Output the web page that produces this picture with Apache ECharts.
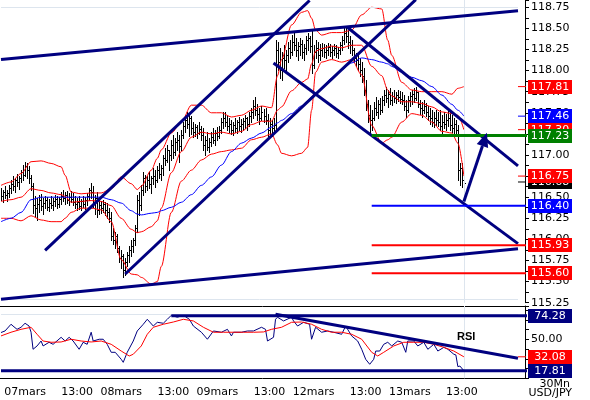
<!DOCTYPE html>
<html><head><meta charset="utf-8">
<script src="https://cdn.jsdelivr.net/npm/echarts@6/dist/echarts.min.js"></script>
<style>html,body{margin:0;padding:0;background:#fff}#c{width:590px;height:400px}</style>
</head><body><div id="c"></div>
<script>
// ---------- categories / tick labels ----------
const dayNames = ['06mars','07mars','08mars','09mars','12mars','13mars','14mars'];
const firstSlot = 36;      // 06mars starts at 18:00
const lastDaySlots = 10;   // 14mars: empty future slots
const labelTimes = ['00:00','13:00'];
const lastLabelled = '13mars 13:00';

// ---------- USD/JPY 30 min bars ----------
const highs = [116.61,116.59,116.63,116.59,116.64,116.70,116.75,116.73,116.78,116.75,
116.82,116.88,116.92,116.90,116.87,116.76,116.67,116.51,116.49,116.53,
116.54,116.49,116.51,116.50,116.48,116.51,116.49,116.53,116.51,116.50,
116.56,116.59,116.56,116.57,116.55,116.57,116.55,116.51,116.49,116.51,
116.48,116.51,116.50,116.55,116.61,116.67,116.63,116.53,116.56,116.47,
116.45,116.47,116.44,116.43,116.37,116.32,116.13,116.09,116.06,115.92,
115.87,115.83,115.78,115.85,115.92,115.99,116.02,116.17,116.53,116.56,
116.64,116.80,116.76,116.75,116.80,116.75,116.85,116.82,116.87,116.90,
116.88,117.00,117.08,117.12,117.06,117.18,117.24,117.20,117.27,117.24,
117.30,117.39,117.47,117.51,117.49,117.46,117.39,117.37,117.35,117.39,
117.34,117.32,117.23,117.27,117.20,117.27,117.32,117.30,117.33,117.34,
117.44,117.51,117.51,117.47,117.44,117.41,117.39,117.44,117.41,117.45,
117.43,117.44,117.47,117.45,117.51,117.56,117.65,117.69,117.60,117.56,
117.58,117.55,117.56,117.49,117.44,117.41,117.44,118.36,118.34,118.27,
118.22,118.30,118.24,118.34,118.36,118.42,118.45,118.39,118.34,118.39,
118.36,118.31,118.41,118.45,118.41,118.48,118.30,118.36,118.34,118.31,
118.33,118.31,118.30,118.33,118.31,118.29,118.31,118.30,118.28,118.34,
118.41,118.50,118.52,118.48,118.41,118.36,118.27,118.21,118.18,118.15,
118.10,118.03,117.89,117.65,117.59,117.53,117.63,117.69,117.65,117.67,
117.70,117.77,117.81,117.77,117.79,117.75,117.77,117.75,117.77,117.76,
117.75,117.71,117.65,117.70,117.75,117.77,117.79,117.81,117.75,117.65,
117.63,117.65,117.62,117.58,117.56,117.53,117.51,117.53,117.51,117.53,
117.47,117.51,117.49,117.53,117.51,117.47,117.44,117.41,117.35,116.90,
116.90,116.82];
const lows = [116.47,116.44,116.49,116.45,116.50,116.55,116.59,116.56,116.63,116.60,
116.68,116.70,116.75,116.73,116.67,116.59,116.31,116.28,116.23,116.32,
116.35,116.30,116.37,116.35,116.34,116.37,116.35,116.40,116.37,116.38,
116.42,116.45,116.42,116.43,116.41,116.44,116.41,116.37,116.35,116.36,
116.35,116.38,116.36,116.41,116.47,116.49,116.38,116.30,116.27,116.30,
116.31,116.32,116.29,116.25,116.21,115.99,115.95,115.90,115.85,115.73,
115.66,115.55,115.58,115.68,115.73,115.80,115.85,115.93,116.09,116.29,
116.35,116.53,116.56,116.59,116.61,116.55,116.66,116.62,116.68,116.73,
116.70,116.76,116.88,116.92,116.82,116.94,116.96,117.00,117.06,116.92,
117.06,117.20,117.27,117.32,117.23,117.25,117.21,117.23,117.20,117.25,
117.18,117.06,117.00,117.06,117.04,117.11,117.14,117.12,117.18,117.20,
117.26,117.32,117.34,117.30,117.27,117.25,117.24,117.27,117.26,117.30,
117.27,117.30,117.32,117.30,117.34,117.39,117.44,117.47,117.41,117.37,
117.41,117.39,117.37,117.21,117.25,117.23,117.27,117.30,118.01,117.91,
117.89,118.03,117.98,118.10,118.15,118.18,118.24,118.17,118.13,118.18,
118.15,118.13,118.20,118.24,118.22,117.97,118.03,118.15,118.10,118.13,
118.17,118.16,118.15,118.18,118.17,118.15,118.18,118.16,118.15,118.20,
118.24,118.31,118.34,118.27,118.21,118.18,118.10,118.05,118.01,117.94,
117.86,117.71,117.53,117.39,117.26,117.30,117.41,117.47,117.44,117.49,
117.51,117.59,117.63,117.57,117.60,117.59,117.63,117.62,117.64,117.62,
117.60,117.53,117.45,117.51,117.58,117.60,117.63,117.65,117.57,117.49,
117.45,117.50,117.46,117.41,117.37,117.34,117.33,117.35,117.34,117.30,
117.26,117.32,117.30,117.34,117.30,117.27,117.26,117.24,116.70,116.64,
116.62,116.61];
const closes = [116.51,116.56,116.53,116.55,116.61,116.66,116.63,116.70,116.68,116.73,
116.80,116.76,116.87,116.82,116.73,116.63,116.41,116.37,116.42,116.47,
116.40,116.43,116.47,116.38,116.43,116.41,116.45,116.48,116.42,116.48,
116.51,116.49,116.53,116.47,116.50,116.48,116.44,116.42,116.44,116.40,
116.45,116.42,116.47,116.51,116.59,116.56,116.43,116.49,116.35,116.41,
116.37,116.42,116.35,116.32,116.25,116.04,115.99,116.04,115.90,115.78,
115.80,115.64,115.73,115.82,115.87,115.92,115.99,116.13,116.47,116.41,
116.59,116.73,116.63,116.70,116.66,116.73,116.75,116.70,116.82,116.78,
116.85,116.96,116.94,117.06,117.00,117.12,117.04,117.15,117.18,117.11,
117.24,117.34,117.41,117.37,117.44,117.32,117.27,117.33,117.26,117.31,
117.24,117.12,117.18,117.10,117.15,117.21,117.18,117.26,117.23,117.30,
117.39,117.44,117.39,117.34,117.37,117.30,117.35,117.32,117.39,117.34,
117.37,117.40,117.44,117.37,117.46,117.51,117.58,117.53,117.49,117.44,
117.51,117.46,117.41,117.30,117.37,117.32,117.35,118.24,118.10,118.01,
118.15,118.13,118.18,118.27,118.22,118.34,118.30,118.24,118.29,118.31,
118.22,118.27,118.36,118.39,118.29,118.07,118.22,118.27,118.18,118.24,
118.27,118.22,118.24,118.28,118.22,118.24,118.27,118.21,118.24,118.30,
118.36,118.45,118.41,118.34,118.30,118.24,118.15,118.13,118.08,118.01,
117.94,117.77,117.60,117.47,117.41,117.44,117.56,117.51,117.60,117.53,
117.65,117.71,117.67,117.72,117.65,117.70,117.67,117.71,117.69,117.66,
117.65,117.58,117.53,117.65,117.70,117.72,117.67,117.75,117.60,117.56,
117.53,117.58,117.51,117.46,117.44,117.39,117.44,117.41,117.39,117.34,
117.39,117.37,117.41,117.44,117.35,117.32,117.37,117.30,116.82,116.85,
116.70,116.67];

// ---------- Bollinger bands (red) and moving average (blue), read at these bars ----------
const bandIdx = [0,5,10,15,20,25,30,32,35,40,45,50,55,60,65,68,70,75,78,80,85,90,95,100,105,110,115,120,125,130,135,138,140,145,150,153,155,157,160,165,170,175,180,185,190,193,195,200,205,210,215,220,225,228,231];
const bandUpper = [116.64,116.68,116.78,116.92,116.93,116.90,116.86,116.76,116.56,116.54,
116.55,116.55,116.60,116.74,116.66,116.59,116.63,116.82,116.96,117.06,
117.26,117.39,117.59,117.59,117.50,117.50,117.45,117.47,117.53,117.58,
117.56,117.94,118.13,118.54,118.69,118.71,118.62,118.48,118.42,118.45,
118.45,118.48,118.66,118.75,118.73,118.36,118.18,117.86,117.77,117.75,
117.75,117.75,117.72,117.79,117.81];
const bandMiddle = [116.45,116.47,116.50,116.60,116.58,116.55,116.53,116.51,116.44,116.45,
116.46,116.45,116.40,116.25,116.12,116.08,116.09,116.15,116.22,116.37,
116.79,117.04,117.21,117.27,117.25,117.27,117.25,117.28,117.36,117.40,
117.40,117.53,117.57,117.76,117.86,117.90,118.08,118.23,118.26,118.29,
118.27,118.30,118.30,118.05,117.94,117.77,117.70,117.63,117.63,117.61,
117.57,117.51,117.49,117.47,117.30];
const bandLower = [116.25,116.25,116.22,116.28,116.23,116.21,116.21,116.25,116.32,116.37,
116.37,116.35,116.21,115.76,115.59,115.58,115.55,115.47,115.50,115.68,
116.32,116.69,116.82,116.94,117.01,117.04,117.06,117.08,117.18,117.21,
117.25,117.12,117.02,116.99,117.02,117.09,117.53,117.98,118.10,118.13,
118.10,118.13,117.95,117.35,117.14,117.18,117.21,117.39,117.49,117.47,
117.39,117.28,117.26,117.14,116.75];
const maBlue = [116.21,116.25,116.32,116.47,116.50,116.50,116.50,116.50,116.50,116.50,
116.50,116.50,116.47,116.43,116.34,116.30,116.29,116.31,116.32,116.34,
116.38,116.44,116.53,116.64,116.74,116.88,117.04,117.14,117.20,117.26,
117.33,117.38,117.41,117.49,117.58,117.64,117.69,117.73,117.79,117.91,
118.01,118.09,118.15,118.13,118.10,118.08,118.05,117.98,117.92,117.88,
117.81,117.71,117.60,117.53,117.46];

// ---------- RSI panel ----------
const rsiIdx = [0,2,5,6,8,10,12,14,15,16,18,20,21,24,26,30,32,34,36,39,41,43,45,46,49,51,53,55,57,60,61,63,66,68,71,73,76,78,81,83,85,88,91,94,96,100,103,106,110,113,115,116,120,123,126,130,132,133,136,137,138,141,145,146,148,151,154,155,157,160,163,166,170,172,175,178,180,182,184,186,187,189,191,193,195,198,200,202,203,206,208,211,213,216,218,221,223,226,227,228,229,231];
const rsiVals = [57.0,58.6,65.5,63.7,60.3,62.4,66.5,63.7,57.3,39.8,43.2,48.3,43.2,47.0,44.9,52.1,48.3,52.1,48.3,39.8,47.0,44.9,57.3,48.3,50.1,50.1,44.9,36.7,36.7,29.5,26.4,36.7,48.3,58.6,65.5,70.6,63.7,67.5,66.5,70.6,74.7,72.7,74.7,70.6,63.7,57.3,50.1,58.6,57.3,60.3,53.5,57.3,57.3,58.6,58.6,62.4,60.3,48.3,52.1,70.6,72.7,68.9,72.7,68.9,63.7,67.5,65.5,50.1,62.4,57.3,58.6,57.3,55.2,63.7,53.5,48.3,39.8,29.5,24.4,29.5,38.0,38.0,44.9,47.0,43.2,48.3,47.0,36.7,48.3,48.3,43.2,47.0,39.8,44.9,38.0,41.8,39.8,34.7,34.0,22.0,22.6,17.81];
const rsiMaIdx = [0,5,10,15,18,21,25,30,35,40,45,50,55,60,64,66,70,73,76,81,86,91,96,101,106,111,116,121,126,131,135,140,145,150,155,160,165,170,175,180,185,188,191,196,201,206,211,216,221,226,231];
const rsiMaVals = [53.5,57.3,60.3,62.4,55.2,48.3,47.0,47.3,50.1,48.3,47.3,48.3,44.9,38.0,32.9,34.7,43.2,55.2,62.4,65.5,67.8,70.6,68.9,62.4,57.3,57.3,57.3,57.3,57.3,57.6,60.3,62.4,67.5,67.8,65.5,60.3,57.3,57.3,55.2,50.1,36.7,32.9,36.7,43.2,47.0,47.0,47.0,44.9,41.8,38.0,32.08];

// ---------- drawn trend lines [barIndex, price] ----------
const trendLines = [
  [[0,118.13],[258,118.71]],
  [[0,115.29],[258,115.89]],
  [[22,115.87],[154,118.83]],
  [[62,115.59],[207,118.84]],
  [[136,118.09],[258,115.95]],
  [[173,118.51],[258,116.87]]
];
const arrowLine = [[231,116.45],[242,117.23]];
const levelStart = 185, levelEnd = 263, stubStart = 258;
const levels = [
  {v:117.23, c:'#008000', w:3},
  {v:116.40, c:'#0000ff', w:2},
  {v:115.93, c:'#ff0000', w:2},
  {v:115.60, c:'#ff0000', w:2}
];
const stubs = [
  {v:117.81, c:'#ff0000'}, {v:117.46, c:'#0000ff'}, {v:117.30, c:'#ff0000'},
  {v:116.75, c:'#ff0000'}, {v:116.68, c:'#000000'}
];
const priceTags = [
  {v:117.81, c:'#ff0000'}, {v:117.46, c:'#0000ff'}, {v:117.30, c:'#ff0000'},
  {v:117.23, c:'#008000'}, {v:116.68, c:'#000000'}, {v:116.75, c:'#ff0000'},
  {v:116.40, c:'#0000ff'}, {v:115.93, c:'#ff0000'}, {v:115.60, c:'#ff0000'}
];
const rsiTrend = [[137,75.75],[258,30.55]];
const rsiLevels = [{v:74.28, from:85}, {v:17.81, from:0}];
const rsiStub = {v:32.08, c:'#ff0000'};
const rsiTags = [{v:74.28, c:'#000080'}, {v:32.08, c:'#ff0000'}, {v:17.81, c:'#000080'}];
const gridLight = {top:118.75, bottom:115.29, rsiTop:75.7, cursor:231};

// ---------- build ----------
const cats = [];
dayNames.forEach((d, k) => {
  const from = k === 0 ? firstSlot : 0;
  const to = k === dayNames.length - 1 ? lastDaySlots : 48;
  for (let s = from; s < to; s++) {
    const hh = String(Math.floor(s / 2)).padStart(2, '0');
    cats.push(d + ' ' + hh + ':' + (s % 2 ? '30' : '00'));
  }
});
const lastLabelIndex = cats.indexOf(lastLabelled);

const NAVY = '#000080';
const FONT = 'DejaVu Sans';
const pairs = (idx, vals) => idx.map((k, j) => [k, vals[j]]);
const ohlc = highs.map((h, i) => [i, h, lows[i], closes[i]]);

function barRender(params, api) {
  const i = api.value(0);
  const ph = api.coord([i, api.value(1)]);
  const pl = api.coord([i, api.value(2)]);
  const pc = api.coord([i, api.value(3)]);
  const x = Math.round(ph[0]) + 0.5;
  const yc = Math.round(pc[1]) + 0.5;
  return {type:'group', children:[
    {type:'line', shape:{x1:x, y1:Math.round(ph[1]), x2:x, y2:Math.round(pl[1]) + 1}, style:{stroke:'#000', lineWidth:1}},
    {type:'line', shape:{x1:x, y1:yc, x2:x + 1.5, y2:yc}, style:{stroke:'#000', lineWidth:1}}
  ]};
}
function tagRender(tags) {
  return function (params, api) {
    const t = tags[params.dataIndex];
    const y = Math.round(api.coord([0, t.v])[1]);
    return {type:'group', children:[
      {type:'rect', shape:{x:528, y:y - 7, width:44, height:14}, style:{fill:t.c}},
      {type:'text', style:{text:t.v.toFixed(2), x:550, y:y + 0.5, fill:'#fff', font:'11px "' + FONT + '"', align:'center', verticalAlign:'middle', textAlign:'center', textVerticalAlign:'middle'}}
    ]};
  };
}
// arrow: shaft + filled head, both placed through the axes
function arrowRender(params, api) {
  const a = api.coord(arrowLine[0]);
  const b = api.coord(arrowLine[1]);
  const dx = b[0] - a[0], dy = b[1] - a[1];
  const len = Math.sqrt(dx * dx + dy * dy);
  const ux = dx / len, uy = dy / len;
  const headL = 14, headW = 6;
  const tip = [b[0] + ux * 3, b[1] + uy * 3];
  const base = [tip[0] - ux * headL, tip[1] - uy * headL];
  return {type:'group', children:[
    {type:'line', shape:{x1:a[0], y1:a[1], x2:base[0], y2:base[1]}, style:{stroke:NAVY, lineWidth:3}},
    {type:'polygon', shape:{points:[tip, [base[0] - uy * headW, base[1] + ux * headW], [base[0] + uy * headW, base[1] - ux * headW]]}, style:{fill:NAVY}}
  ]};
}
function seg(data, color, width, xi, yi, z) {
  return {type:'line', xAxisIndex:xi, yAxisIndex:yi, data:data, symbol:'none', silent:true, clip:false,
    lineStyle:{color:color, width:width}, z:z || 5, animation:false};
}
const lightStyle = {color:'#dde5ee', width:1, type:'solid'};
const series = [];
series.push({type:'custom', xAxisIndex:0, yAxisIndex:0, data:ohlc, renderItem:barRender, encode:{x:0, y:[1,2,3]}, z:2, silent:true});
series.push(Object.assign(seg(pairs(bandIdx, bandUpper), '#ff0000', 1, 0, 0, 3), {smooth:0.3, smoothMonotone:'x',
  markLine:{silent:true, symbol:['none','none'], label:{show:false}, lineStyle:lightStyle, animation:false,
    data:[[{coord:[0, gridLight.top]},{coord:[258, gridLight.top]}],[{coord:[0, gridLight.bottom]},{coord:[258, gridLight.bottom]}],{xAxis:gridLight.cursor}]}}));
series.push(Object.assign(seg(pairs(bandIdx, bandMiddle), '#ff0000', 1, 0, 0, 3), {smooth:0.3, smoothMonotone:'x'}));
series.push(Object.assign(seg(pairs(bandIdx, bandLower), '#ff0000', 1, 0, 0, 3), {smooth:0.3, smoothMonotone:'x'}));
series.push(Object.assign(seg(pairs(bandIdx, maBlue), '#0000ff', 1, 0, 0, 3), {smooth:0.3, smoothMonotone:'x'}));
trendLines.forEach(t => series.push(seg(t, NAVY, 3, 0, 0, 6)));
levels.forEach(l => series.push(seg([[levelStart, l.v],[levelEnd, l.v]], l.c, l.w, 0, 0, 6)));
stubs.forEach(s => series.push(seg([[stubStart, s.v],[levelEnd, s.v]], s.c, 1, 0, 0, 6)));
series.push({type:'custom', xAxisIndex:0, yAxisIndex:0, data:[arrowLine[0]], renderItem:arrowRender, encode:{x:0, y:1}, clip:false, z:7, silent:true});
series.push({type:'custom', xAxisIndex:0, yAxisIndex:0, data:priceTags.map(t => [0, t.v]), renderItem:tagRender(priceTags), encode:{x:0, y:1}, clip:false, z:20, silent:true});

// RSI
series.push(Object.assign(seg(pairs(rsiIdx, rsiVals), NAVY, 1, 1, 1, 4), {
  markLine:{silent:true, symbol:['none','none'], label:{show:false}, lineStyle:lightStyle, animation:false,
    data:[[{coord:[0, gridLight.rsiTop]},{coord:[258, gridLight.rsiTop]}],{xAxis:gridLight.cursor}]}}));
series.push(seg(pairs(rsiMaIdx, rsiMaVals), '#ff0000', 1, 1, 1, 4));
series.push(seg(rsiTrend, NAVY, 3, 1, 1, 6));
rsiLevels.forEach(l => series.push(seg([[l.from, l.v],[levelEnd, l.v]], NAVY, 3, 1, 1, 6)));
series.push(seg([[stubStart, rsiStub.v],[levelEnd, rsiStub.v]], rsiStub.c, 1, 1, 1, 6));
series.push({type:'custom', xAxisIndex:1, yAxisIndex:1, data:rsiTags.map(t => [0, t.v]), renderItem:tagRender(rsiTags), encode:{x:0, y:1}, clip:false, z:20, silent:true});

const labelStyle = {color:'#000', fontFamily:FONT, fontSize:11};
const option = {
  animation:false,
  backgroundColor:'#fff',
  grid:[{left:0, top:0, width:525, height:302.7}, {left:0, top:306, width:525, height:72.3}],
  xAxis:[
    {type:'category', gridIndex:0, data:cats, show:false, boundaryGap:true},
    {type:'category', gridIndex:1, data:cats, boundaryGap:true, position:'bottom',
      axisLine:{lineStyle:{color:'#000', width:1}},
      axisTick:{interval:3, length:4, lineStyle:{color:'#000'}},
      axisLabel:Object.assign({margin:8,
        interval:(index, value) => index <= lastLabelIndex && labelTimes.some(t => value.endsWith(t)),
        formatter:v => v.endsWith(labelTimes[0]) ? v.split(' ')[0] : v.split(' ')[1]}, labelStyle)},
    {type:'category', gridIndex:1, data:cats, boundaryGap:true, position:'top',
      axisLine:{lineStyle:{color:'#000', width:1}}, axisTick:{show:false}, axisLabel:{show:false}}
  ],
  yAxis:[
    {type:'value', gridIndex:0, position:'right', min:115.25, max:118.836, interval:0.25, scale:true,
      axisLine:{show:true, lineStyle:{color:'#000'}}, splitLine:{show:false},
      axisTick:{show:true, length:4, lineStyle:{color:'#000'}},
      minorTick:{show:true, splitNumber:2, length:4, lineStyle:{color:'#000'}},
      axisLabel:Object.assign({margin:6, formatter:v => {
        const r = Math.round(v / 0.25) * 0.25; return Math.abs(r - v) < 1e-6 ? v.toFixed(2) : ''; }}, labelStyle)},
    {type:'value', gridIndex:1, position:'right', min:10, max:84.24, interval:10,
      axisLine:{show:true, lineStyle:{color:'#000'}}, splitLine:{show:false},
      axisTick:{show:true, length:4, lineStyle:{color:'#000'}},
      axisLabel:Object.assign({margin:6, formatter:v => Math.abs(v - 50) < 1e-6 ? '50.00' : ''}, labelStyle)}
  ],
  graphic:[
    {type:'text', left:457, top:331, style:{text:'RSI', font:'bold 11px "Liberation Sans", Arial, sans-serif', fill:'#000'}, z:30},
    {type:'text', right:20, top:379, style:{text:'30Mn', font:'11px "' + FONT + '"', fill:'#000'}, z:30},
    {type:'text', right:18, top:388, style:{text:'USD/JPY', font:'11px "' + FONT + '"', fill:'#000'}, z:30}
  ],
  series:series
};
const chart = echarts.init(document.getElementById('c'), null, {renderer:'canvas', width:590, height:400});
chart.setOption(option);
</script>
</body></html>
